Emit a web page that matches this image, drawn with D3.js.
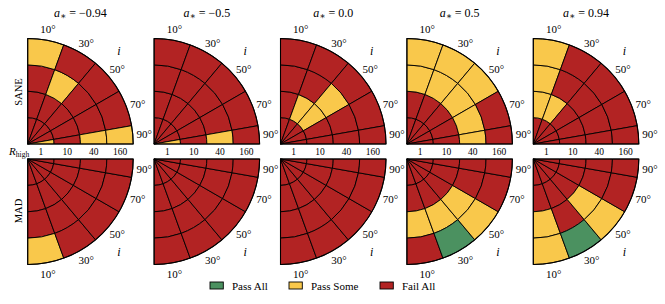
<!DOCTYPE html>
<html>
<head>
<meta charset="utf-8">
<script src="https://cdn.jsdelivr.net/npm/d3@7"></script>
<style>
  html, body { margin: 0; padding: 0; background: #fff; }
  svg { display: block; }
  text { font-family: "Liberation Serif", "DejaVu Serif", serif; fill: #000; }
</style>
</head>
<body>
<svg id="chart" width="665" height="304"></svg>
<script>
// ---------------- data ----------------
const spins = ["−0.94", "−0.5", "0.0", "0.5", "0.94"];
const inclinations = [10, 30, 50, 70, 90];
const rHigh = ["1", "10", "40", "160"];
const methods = ["SANE", "MAD"];
const statusNames = ["Fail All", "Pass Some", "Pass All"];
// status: 0 = Fail All, 1 = Pass Some, 2 = Pass All
// rows: inclination 10,30,50,70,90 ; columns: R_high 1,10,40,160
const sane_m094 = [[0,0,0,1],[0,0,1,0],[0,0,0,0],[0,0,0,0],[1,0,1,1]];
const sane_m05  = [[0,0,0,0],[0,0,0,0],[0,0,0,0],[0,0,0,0],[1,0,1,0]];
const sane_0    = [[0,0,0,0],[0,1,0,0],[0,1,1,0],[0,0,0,0],[0,0,0,0]];
const sane_p05  = [[0,0,1,1],[0,0,1,1],[0,0,1,1],[0,0,1,0],[0,0,1,0]];
const sane_p094 = [[0,1,1,1],[0,1,0,0],[0,0,0,0],[0,0,0,0],[0,0,0,0]];
const mad_m094  = [[0,0,0,1],[0,0,0,0],[0,0,0,0],[0,0,0,0],[0,0,0,0]];
const mad_m05   = [[0,0,0,0],[0,0,0,0],[0,0,0,0],[0,0,0,0],[0,0,0,0]];
const mad_0     = [[0,0,0,0],[0,0,0,0],[0,0,0,0],[0,0,0,0],[0,0,0,0]];
const mad_p05   = [[0,0,1,0],[0,0,1,2],[0,0,1,1],[0,0,0,0],[0,0,0,0]];
const mad_p094  = [[0,0,1,1],[0,0,0,2],[0,0,1,1],[0,0,0,0],[0,0,0,0]];
const grids = [
  [sane_m094, sane_m05, sane_0, sane_p05, sane_p094],
  [mad_m094, mad_m05, mad_0, mad_p05, mad_p094]
];

// ---------------- layout ----------------
const colors = ["#b22323", "#f9c84b", "#4b9160"];
const R = 105.5;
const cx0 = 27.7, dxPanel = 126.4;
const cyRow = [144, 159];

const svg = d3.select("#chart");

const rScale = d3.scaleBand().domain(rHigh).range([0, R]).paddingInner(0).paddingOuter(0);
const aScale = d3.scaleLinear().domain([0, 90]).range([0, Math.PI / 2]);

// inclination bin edges (midpoints between neighbouring values, clipped to [0,90])
const bins = inclinations.map((v, k) => {
  const lo = k === 0 ? 0 : (inclinations[k - 1] + v) / 2;
  const hi = k === inclinations.length - 1 ? 90 : (v + inclinations[k + 1]) / 2;
  return { v, lo, hi, mid: (lo + hi) / 2 };
});

const arc = d3.arc();

methods.forEach((m, row) => {
  spins.forEach((s, col) => {
    const cx = cx0 + col * dxPanel, cy = cyRow[row];
    const g = svg.append("g").attr("transform", `translate(${cx},${cy})`);
    const toAng = row === 0 ? (d => aScale(d)) : (d => Math.PI - aScale(d));
    const cells = [];
    bins.forEach((b, ai) => {
      rHigh.forEach((r, ri) => {
        const a0 = toAng(b.lo), a1 = toAng(b.hi);
        cells.push({
          status: grids[row][col][ai][ri],
          innerRadius: rScale(r),
          outerRadius: rScale(r) + rScale.bandwidth(),
          startAngle: Math.min(a0, a1),
          endAngle: Math.max(a0, a1)
        });
      });
    });
    g.selectAll("path.cell").data(cells).join("path")
      .attr("class", "cell")
      .attr("d", d => arc(d))
      .attr("fill", d => colors[d.status])
      .attr("stroke", "#000")
      .attr("stroke-width", 0.9)
      .attr("stroke-linejoin", "round");
    const a0 = toAng(0), a1 = toAng(90);
    g.append("path")
      .attr("d", arc({ innerRadius: 0, outerRadius: R, startAngle: Math.min(a0, a1), endAngle: Math.max(a0, a1) }))
      .attr("fill", "none").attr("stroke", "#000").attr("stroke-width", 1.1);

    const sgn = row === 0 ? -1 : 1;
    bins.forEach(b => {
      const th = aScale(b.mid), rl = 117;
      g.append("text")
        .attr("x", rl * Math.sin(th))
        .attr("y", sgn * rl * Math.cos(th))
        .attr("text-anchor", "middle")
        .attr("dominant-baseline", "central")
        .attr("font-size", 11)
        .text(b.v + "°");
    });
    const thi = aScale(44.5), ri = 130;
    g.append("text")
      .attr("x", ri * Math.sin(thi))
      .attr("y", sgn * ri * Math.cos(thi))
      .attr("text-anchor", "middle")
      .attr("dominant-baseline", "central")
      .attr("font-size", 12)
      .attr("font-style", "italic")
      .text("i");

    if (row === 0) {
      const t = svg.append("text")
        .attr("x", cx + R / 2).attr("y", 16.5)
        .attr("text-anchor", "middle").attr("font-size", 12);
      t.append("tspan").attr("font-style", "italic").text("a");
      t.append("tspan").attr("font-size", 9).attr("dy", 2).text("∗");
      t.append("tspan").attr("dy", -2).text(" = " + s);
      rHigh.forEach(r => {
        svg.append("text")
          .attr("x", cx + rScale(r) + rScale.bandwidth() / 2)
          .attr("y", 152)
          .attr("text-anchor", "middle")
          .attr("dominant-baseline", "central")
          .attr("font-size", 9.5)
          .text(r);
      });
    }
  });
  svg.append("text")
    .attr("transform", `translate(18.5,${row === 0 ? 92 : 211}) rotate(-90)`)
    .attr("text-anchor", "middle")
    .attr("dominant-baseline", "central")
    .attr("font-size", 10.5)
    .text(m);
});

const rl = svg.append("text")
  .attr("x", cx0 + 1.5).attr("y", 155)
  .attr("text-anchor", "end").attr("font-size", 11);
rl.append("tspan").attr("font-style", "italic").text("R");
rl.append("tspan").attr("font-size", 7.5).attr("dy", 2).text("high");

const legendOrder = [2, 1, 0];
const legendX = [210, 289, 380];
legendOrder.forEach((st, k) => {
  const lg = svg.append("g").attr("transform", `translate(${legendX[k]},282)`);
  lg.append("rect").attr("width", 13.3).attr("height", 7)
    .attr("fill", colors[st]).attr("stroke", "#000").attr("stroke-width", 0.9);
  lg.append("text").attr("x", 22).attr("y", 7.5).attr("font-size", 11).text(statusNames[st]);
});
</script>
</body>
</html>
